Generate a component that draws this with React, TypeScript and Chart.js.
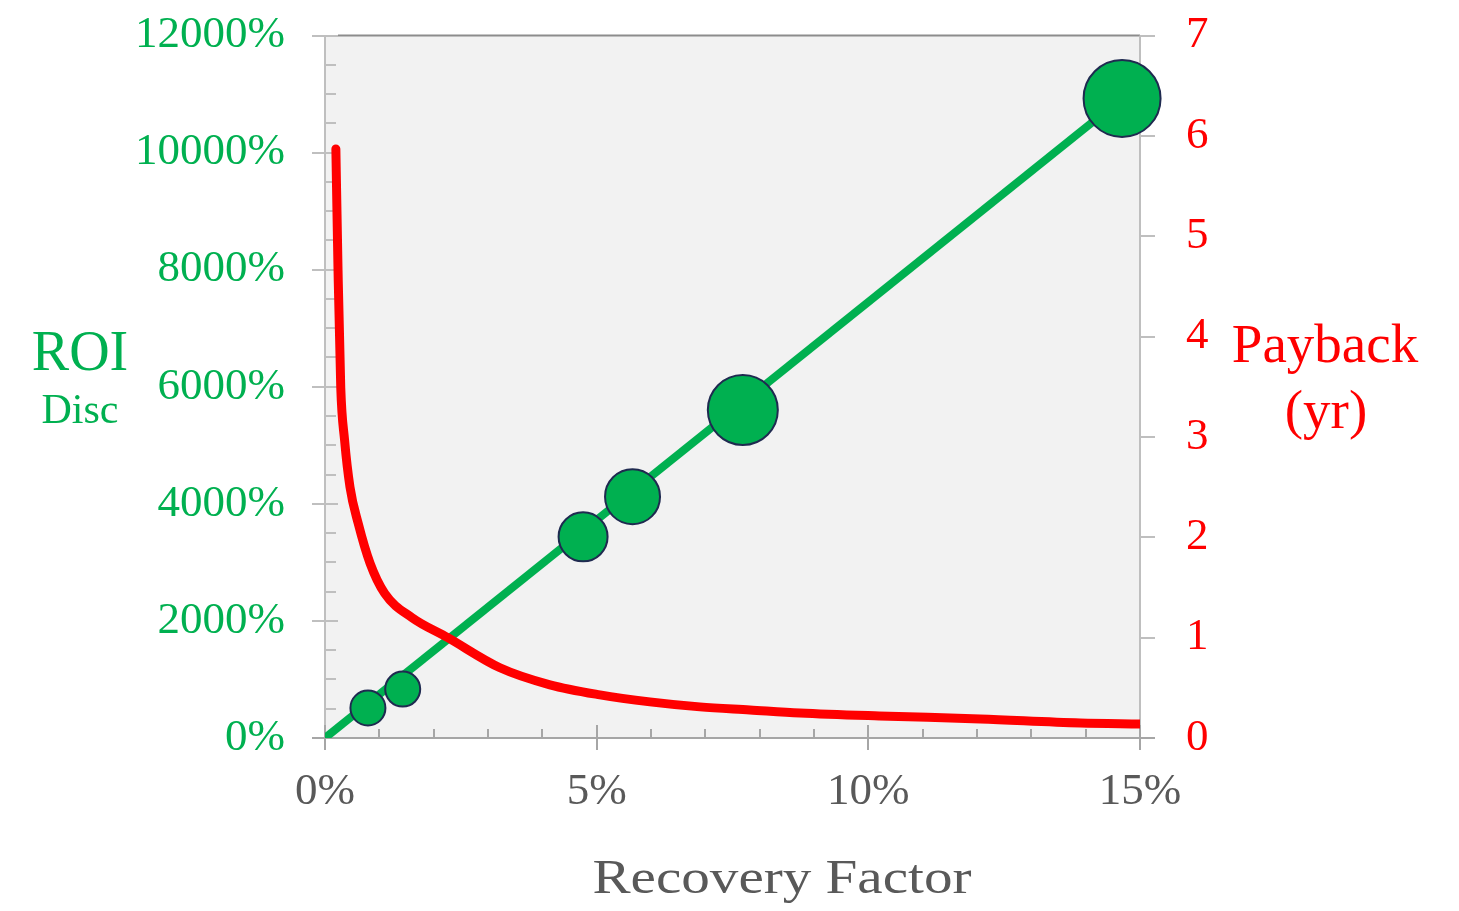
import React, { useEffect, useRef } from "react";
import { Chart, registerables } from "chart.js";

Chart.register(...registerables);

// Recovery factor (%) vs discounted ROI (%) bubbles
const bubbleX = [0.79, 1.43, 4.75, 5.66, 7.69, 14.67];
const bubbleRoi = [512, 836, 3436, 4122, 5604, 10925];
const bubbleSize = [17.5, 17.5, 24.5, 27.5, 35, 38.5];

// ROI trend line
const roiLineX = [0, 14.67];
const roiLineY = [0, 10925];

// Payback curve (years)
const paybackX = [0.2, 0.24, 0.29, 0.36, 0.46, 0.61, 0.83, 1.1, 1.6, 2.26, 3.22, 4.14, 5.06, 5.98, 6.9, 7.82, 8.74, 10.2, 12.06, 13.9, 15.0];
const paybackY = [5.87, 4.66, 3.49, 2.97, 2.5, 2.14, 1.74, 1.44, 1.2, 1.0, 0.7, 0.53, 0.43, 0.36, 0.31, 0.28, 0.25, 0.22, 0.19, 0.15, 0.14];

const xTicks = [0, 5, 10, 15];
const roiTicks = [0, 2000, 4000, 6000, 8000, 10000, 12000];
const paybackTicks = [0, 1, 2, 3, 4, 5, 6, 7];

const GREEN = "#00b050";
const RED = "#ff0000";
const GRAY_TEXT = "#595959";
const FONT = "'Liberation Serif', 'Times New Roman', serif";
const SHIFT = 5; // canvas is placed 5px above the page top

const decorPlugin = {
  id: "decor",
  beforeDraw(chart: any) {
    const { ctx, chartArea: a } = chart;
    ctx.save();
    ctx.fillStyle = "#f2f2f2";
    ctx.fillRect(a.left, a.top, a.right - a.left, a.bottom - a.top);
    ctx.restore();
  },
  beforeDatasetsDraw(chart: any) {
    const { ctx, chartArea: a, scales } = chart;
    const xs = scales.x, yl = scales.y, yr = scales.y1;
    ctx.save();
    ctx.lineWidth = 2;
    const line = (x1: number, y1: number, x2: number, y2: number, c: string) => {
      ctx.strokeStyle = c;
      ctx.beginPath();
      ctx.moveTo(x1, y1);
      ctx.lineTo(x2, y2);
      ctx.stroke();
    };
    // top border
    line(a.left + 13, a.top, a.right, a.top, "#8c8c8c");
    // left axis
    line(a.left, a.top, a.left, a.bottom + 12, "#bfbfbf");
    for (let v = 0; v <= 12000; v += 500) {
      const y = Math.round(yl.getPixelForValue(v));
      if (v % 2000 === 0) line(a.left - 13, y, a.left + 13, y, "#bfbfbf");
      else line(a.left, y, a.left + 11, y, "#bfbfbf");
    }
    // right axis
    line(a.right, a.top, a.right, a.bottom, "#bfbfbf");
    for (const v of paybackTicks) {
      const y = Math.round(yr.getPixelForValue(v));
      line(a.right, y, a.right + 15, y, "#bfbfbf");
    }
    // x axis
    line(a.left - 13, a.bottom, a.right + 15, a.bottom, "#a6a6a6");
    for (let v = 0; v <= 15; v += 1) {
      const x = Math.round(xs.getPixelForValue(v));
      if (v % 5 === 0) line(x, a.bottom - 13, x, a.bottom + 12, "#a6a6a6");
      else line(x, a.bottom - 9, x, a.bottom, "#a6a6a6");
    }
    ctx.restore();
  },
  afterDraw(chart: any) {
    const { ctx } = chart;
    ctx.save();
    ctx.translate(0, SHIFT);
    ctx.textBaseline = "alphabetic";
    ctx.textAlign = "center";
    ctx.fillStyle = GREEN;
    ctx.font = `56px ${FONT}`;
    ctx.fillText("ROI", 80, 370);
    ctx.font = `42px ${FONT}`;
    ctx.fillText("Disc", 80, 423);
    ctx.fillStyle = RED;
    ctx.font = `55px ${FONT}`;
    ctx.fillText("Payback", 1325, 362);
    ctx.fillText("(yr)", 1326, 428);
    ctx.fillStyle = GRAY_TEXT;
    ctx.font = `48px ${FONT}`;
    ctx.translate(782, 893);
    ctx.scale(1.19, 1);
    ctx.fillText("Recovery Factor", 0, 0);
    ctx.restore();
  },
};

const noPad = (s: any) => {
  s.paddingTop = 0;
  s.paddingBottom = 0;
  s.paddingLeft = 0;
  s.paddingRight = 0;
};

export default function App() {
  const ref = useRef<HTMLCanvasElement | null>(null);
  useEffect(() => {
    if (!ref.current) return;
    const chart = new Chart(ref.current, {
      type: "scatter",
      data: {
        datasets: [
          {
            type: "line",
            label: "Payback",
            data: paybackX.map((x, i) => ({ x, y: paybackY[i] })),
            yAxisID: "y1",
            borderColor: RED,
            borderWidth: 9,
            borderCapStyle: "round",
            borderJoinStyle: "round",
            pointRadius: 0,
            cubicInterpolationMode: "monotone",
            fill: false,
            clip: 0,
          } as any,
          {
            type: "bubble",
            label: "ROI",
            data: bubbleX.map((x, i) => ({ x, y: bubbleRoi[i], r: bubbleSize[i] })),
            yAxisID: "y",
            backgroundColor: GREEN,
            borderColor: "#1f2a50",
            borderWidth: 2,
            clip: false,
          } as any,
          {
            type: "line",
            label: "ROI trend",
            data: roiLineX.map((x, i) => ({ x, y: roiLineY[i] })),
            yAxisID: "y",
            borderColor: GREEN,
            borderWidth: 8,
            pointRadius: 0,
            fill: false,
            clip: 0,
          } as any,
        ],
      },
      options: {
        responsive: false,
        animation: false,
        events: [],
        layout: { padding: { top: 30, left: 0, right: 0, bottom: 0 } },
        plugins: { legend: { display: false }, tooltip: { enabled: false } },
        scales: {
          x: {
            type: "linear",
            min: 0,
            max: 15,
            afterFit: (s: any) => { s.height = 173; noPad(s); },
            afterBuildTicks: (s: any) => { s.ticks = xTicks.map((v) => ({ value: v })); },
            grid: { display: false, drawTicks: false },
            border: { display: false },
            ticks: {
              padding: 27,
              color: GRAY_TEXT,
              font: { family: FONT, size: 45 },
              maxRotation: 0,
              callback: (v: any) => `${v}%`,
            },
          },
          y: {
            type: "linear",
            position: "left",
            min: 0,
            max: 12000,
            afterFit: (s: any) => { s.width = 325; noPad(s); },
            afterBuildTicks: (s: any) => { s.ticks = roiTicks.map((v) => ({ value: v })); },
            grid: { display: false, drawTicks: false },
            border: { display: false },
            ticks: {
              padding: 40,
              color: GREEN,
              font: { family: FONT, size: 45 },
              callback: (v: any) => `${v}%`,
            },
          },
          y1: {
            type: "linear",
            position: "right",
            min: 0,
            max: 7,
            afterFit: (s: any) => { s.width = 319; noPad(s); },
            afterBuildTicks: (s: any) => { s.ticks = paybackTicks.map((v) => ({ value: v })); },
            grid: { display: false, drawTicks: false },
            border: { display: false },
            ticks: {
              padding: 46,
              color: RED,
              font: { family: FONT, size: 45 },
              callback: (v: any) => `${v}`,
            },
          },
        },
      },
      plugins: [decorPlugin],
    } as any);
    return () => chart.destroy();
  }, []);
  return (
    <div style={{ position: "absolute", left: 0, top: -SHIFT, width: 1459, height: 911 + SHIFT, background: "#fff", overflow: "hidden" }}>
      <canvas ref={ref} width={1459} height={911 + SHIFT} style={{ display: "block" }} />
    </div>
  );
}
